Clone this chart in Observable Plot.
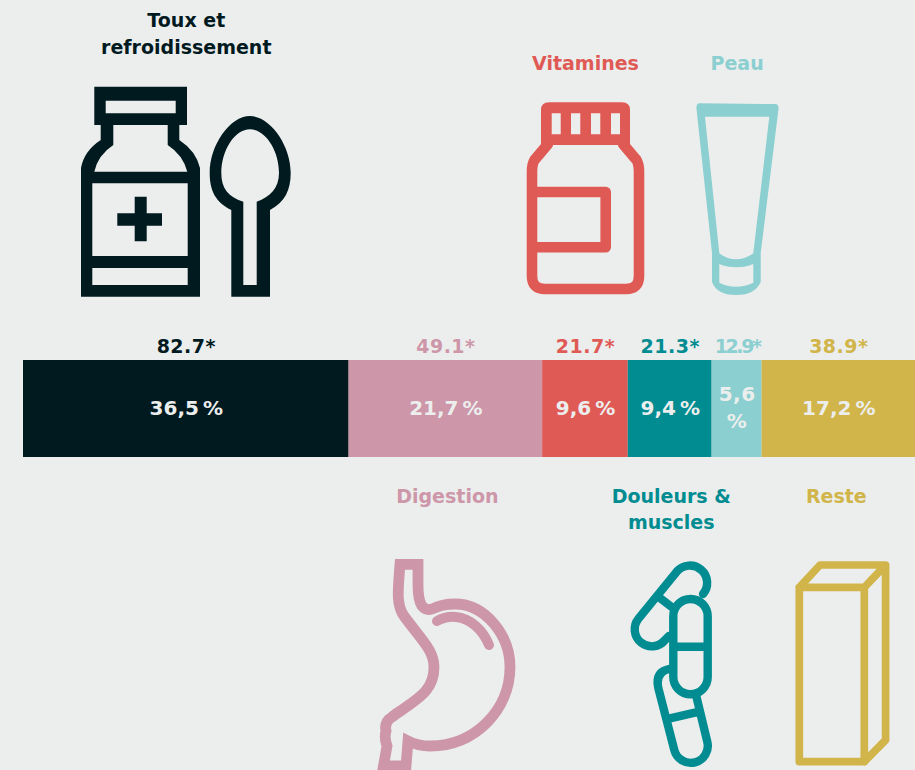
<!DOCTYPE html>
<html lang="fr">
<head>
<meta charset="utf-8">
<script src="https://cdn.jsdelivr.net/npm/d3@7"></script>
<script src="https://cdn.jsdelivr.net/npm/@observablehq/plot@0.6"></script>
<style>
  html, body { margin: 0; padding: 0; background: #eceeed; overflow: hidden; }
  svg { display: block; }
  .tx text { letter-spacing: 0.5px; }
  .tight text { letter-spacing: -2.4px; }
</style>
</head>
<body>
<div id="chart"></div>
<script>
const categories = ["Toux et\nrefroidissement", "Digestion", "Vitamines", "Douleurs &\nmuscles", "Peau", "Reste"];
const amounts = [82.7, 49.1, 21.7, 21.3, 12.9, 38.9];
const shares = [36.5, 21.7, 9.6, 9.4, 5.6, 17.2];
const shareLabels = ["36,5\u202f%", "21,7\u202f%", "9,6\u202f%", "9,4\u202f%", "5,6\n%", "17,2\u202f%"];
const colors = ["#011a1f", "#cd96a9", "#e05a55", "#008c91", "#8bcfd0", "#d1b54a"];
const placement = ["top", "bottom", "top", "bottom", "top", "bottom"];
const background = "#eceeed";

const ends = d3.cumsum(shares);
const rows = categories.map((category, i) => ({
  category,
  amount: amounts[i].toFixed(1) + "*",
  shareLabel: shareLabels[i],
  color: colors[i],
  where: placement[i],
  start: ends[i] - shares[i],
  end: ends[i],
  mid: ends[i] - shares[i] / 2
}));

// Decorative pictograms, in page pixels
const icons = [
  { fill: colors[0], rule: "evenodd", d: "M94.3 86.7H187V125H94.3Z M105.7 100.7V113.3H175.7V100.7Z" },
  { fill: colors[0], rule: "evenodd", d: "M100.7 125V140Q84 151 81 168V296.7H200V168Q196 151 179.3 140V125Z M113.3 125V145Q98 155 94.3 171.7H187.3Q183 155 167.7 145V125Z M92.3 183.3V256H187.7V183.3Z M92.3 268V285H187.7V268Z" },
  { fill: colors[0], d: "M134.7 196.7H146.7V213.3H162V225.7H146.7V241.3H134.7V225.7H117.3V213.3H134.7Z" },
  { fill: colors[0], rule: "evenodd", d: "M231.3 296.7V210C215 202 209.7 190 209.7 173C209.7 145 230 116 250 116C270 116 290.7 145 290.7 173C290.7 190 285 202 270 210V296.7Z M243.3 285V201.7C228 197 221.3 188 221.3 173C221.3 150 235 129.3 250 129.3C265 129.3 279 150 279 173C279 188 270 197 256.7 201.7V285Z" },
  { fill: colors[2], rule: "evenodd", d: "M549 102.3H622Q630 102.3 630 110V145H541V110Q541 102.3 549 102.3Z M551.7 113.3V134.3H560.7V113.3Z M571 113.3V134.3H580.3V113.3Z M591 113.3V134.3H600.3V113.3Z M611 113.3V134.3H620V113.3Z" },
  { stroke: colors[2], width: 10.6, d: "M548 144L534.5 160Q532 164 532 172V276Q532 289 545 289H626Q639 289 639 276V172Q639 164 636.5 160L623 144 M532 192H605.7V247.3H532" },
  { fill: colors[4], rule: "evenodd", d: "M700 103.3L775 104Q779 104 778.5 109L760.7 253V282Q755 295 736 295Q717 295 712 282V253L696.5 109Q696 103 700 103.3Z M705 116.7H769.3L753.3 253.3Q745 259.3 736 259.3Q727 259.3 719.3 253.3Z M719.3 264Q727 267.3 736 267.3Q746 267.3 753.3 264V282.7Q745 286.7 736 286.7Q727 286.7 719.3 282.7Z" },
  { stroke: colors[1], width: 10.8, join: "miter", d: "M400 564.3H418V585Q418 600 422 606Q426 611 432 609Q442 604 455 604C485 604 510 635 510 667C510 710 475 746 430 746Q418 746 408 741L406 766H383.5L387 746Q384 738 386 731Q384 722 392 717Q397 713 402 710C415 700 434 692 434 667C434 650 420 638 404 616C396 605 398 590 400 564.3Z" },
  { stroke: colors[1], width: 10, d: "M437 621Q446 616 456 617C470 618 483 630 489 645" },
  { stroke: colors[3], width: 8.4, d: "M703 594A16 16 0 0 0 676.8 571.6L638.5 618.6A16 16 0 0 0 665 640L669 636 M658.3 596.7L673.3 608.3" },
  { stroke: colors[3], width: 8.4, d: "M690.5 599A17.2 17.2 0 0 1 707.7 616.2V677.1A17.2 17.2 0 0 1 673.3 677.1V616.2A17.2 17.2 0 0 1 690.5 599Z M673.3 646.7H707.7" },
  { stroke: colors[3], width: 8.4, d: "M669 669Q655 672 658.3 688L674.3 750A16 16 0 0 0 707.3 741.7L696.5 697 M670 718.3L699.3 711.7" },
  { stroke: colors[5], width: 7.7, d: "M799.3 587.3H864.3V761.7H799.3Z M799.3 587.3L820 565H885.6L864.3 587.3 M885.6 565V740L864.3 761.7" }
];

function iconMark() {
  const g = d3.create("svg:g");
  for (const ic of icons) {
    g.append("path")
      .attr("d", ic.d)
      .attr("fill", ic.fill || "none")
      .attr("fill-rule", ic.rule || null)
      .attr("stroke", ic.stroke || null)
      .attr("stroke-width", ic.width || null)
      .attr("stroke-linejoin", ic.join || "round")
      .attr("stroke-linecap", ic.join ? "butt" : "round");
  }
  return g.node();
}

const band = () => "bar";
const font = { fontFamily: "'DejaVu Sans', Verdana, sans-serif", fontWeight: 700, fontSize: 19 };
const single = (d) => !d.category.includes("\n");
const labelShift = { "Digestion": 1.5, "Douleurs &\nmuscles": 1, "Reste": -2.5 };
const title = { x: "mid", y: band, text: "category", fill: "color", lineHeight: 1.39, ...font };

const chart = Plot.plot({
  width: 915,
  height: 770,
  margin: 0,
  style: { background, overflow: "hidden" },
  x: { domain: [0, 100], range: [23, 915], axis: null },
  y: { domain: ["bar"], range: [360, 457], padding: 0, axis: null },
  marks: [
    iconMark,
    Plot.barX(rows, { x1: "start", x2: "end", y: band, fill: "color" }),
    Plot.text(rows, { x: "mid", y: band, text: "shareLabel", fill: background, dy: -3, lineHeight: 1.35, ...font, fontSize: 20, className: "tx" }),
    Plot.text(rows.filter((d) => d.amount !== "12.9*"), { x: "mid", y: band, text: "amount", fill: "color", dy: -62.5, ...font, className: "tx" }),
    Plot.text(rows.filter((d) => d.amount === "12.9*"), { x: "mid", y: band, text: "amount", fill: "color", dy: -62.5, ...font, className: "tight" }),
    Plot.text(rows.filter((d) => d.where === "top" && single(d)), { ...title, lineAnchor: "bottom", dy: -339.5 }),
    Plot.text(rows.filter((d) => d.where === "top" && !single(d)), { ...title, lineAnchor: "bottom", dy: -355.5 }),
    ...rows.filter((d) => d.where === "bottom").map((d) =>
      Plot.text([d], { ...title, lineAnchor: "top", dy: 75, dx: labelShift[d.category] })
    )
  ]
});
document.getElementById("chart").append(chart);
</script>
</body>
</html>
